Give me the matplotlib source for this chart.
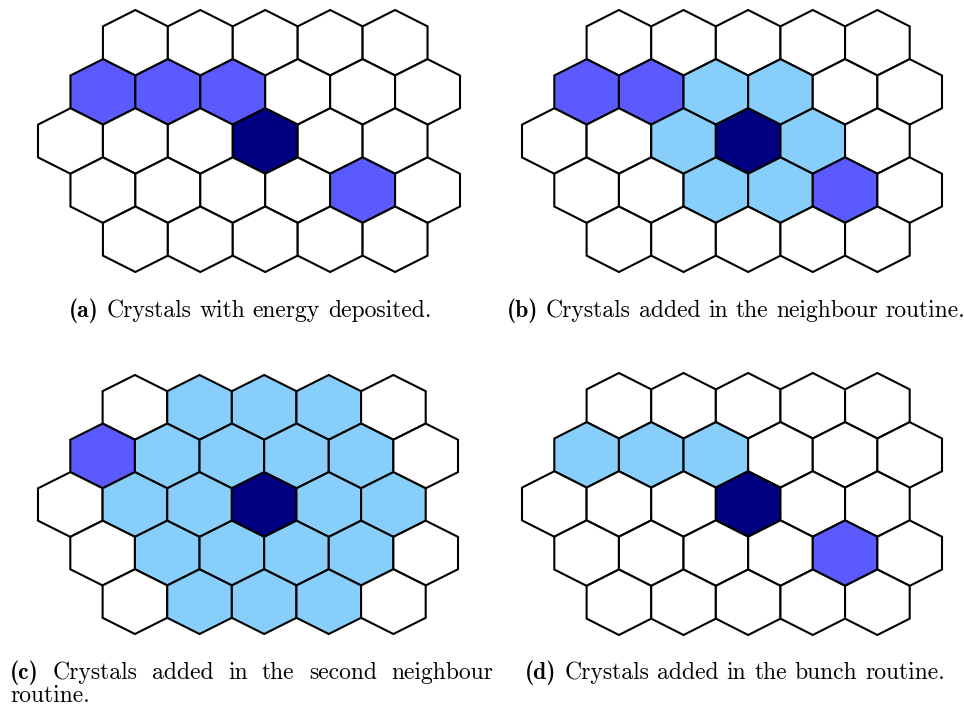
import matplotlib.pyplot as plt
from matplotlib.patches import Polygon

W, H = 964, 708
FS = 17

# grid layout: first half-column index and number of cells in each row
row_start = [2, 1, 0, 1, 2]
row_count = [5, 6, 6, 6, 5]

DARK = '#000080'
MID = '#5a5aff'
LIGHT = '#87cefa'

# cells as (row, index within row)
seed_a = [(2, 3)]
energy_a = [(1, 0), (1, 1), (1, 2), (3, 4)]

seed_b = [(2, 3)]
energy_b = [(1, 0), (1, 1), (3, 4)]
added_b = [(1, 2), (1, 3), (2, 2), (2, 4), (3, 2), (3, 3)]

seed_c = [(2, 3)]
energy_c = [(1, 0)]
added_c = [(0, 1), (0, 2), (0, 3),
           (1, 1), (1, 2), (1, 3), (1, 4),
           (2, 1), (2, 2), (2, 4), (2, 5),
           (3, 1), (3, 2), (3, 3), (3, 4),
           (4, 1), (4, 2), (4, 3)]

seed_d = [(2, 3)]
energy_d = [(3, 4)]
added_d = [(1, 0), (1, 1), (1, 2)]

# panel boxes in pixels: left, top, right, bottom
boxes = [(38, 10, 460, 272), (522, 10, 942, 272),
         (38, 375, 458, 634), (522, 373, 942, 635)]

panels = [(seed_a, energy_a, []), (seed_b, energy_b, added_b),
          (seed_c, energy_c, added_c), (seed_d, energy_d, added_d)]

HEX = [(0, 1), (1, 0.5), (1, -0.5), (0, -1), (-1, -0.5), (-1, 0.5)]

fig = plt.figure(figsize=(W / 100, H / 100), dpi=100)


def draw_grid(ax, seed, energy, added):
    colours = {}
    for c in added:
        colours[c] = LIGHT
    for c in energy:
        colours[c] = MID
    for c in seed:
        colours[c] = DARK
    for r in range(len(row_start)):
        for k in range(row_count[r]):
            cx = row_start[r] + 2 * k
            cy = -1.5 * r
            pts = [(cx + dx, cy + dy) for dx, dy in HEX]
            ax.add_patch(Polygon(pts, closed=True, facecolor=colours.get((r, k), 'white'),
                                 edgecolor='black', linewidth=1.5, clip_on=False,
                                 joinstyle='miter'))
    ax.set_xlim(-1, 12)
    ax.set_ylim(-7, 1)
    ax.axis('off')


for (l, t, r, b), cells in zip(boxes, panels):
    ax = fig.add_axes([l / W, 1 - b / H, (r - l) / W, (b - t) / H])
    draw_grid(ax, *cells)

renderer = fig.canvas.get_renderer()
space = 0.333 * FS * 100 / 72


def place_words(words, y, x0=None, x1=None, centre=None):
    texts = []
    for w in words:
        fam = 'cmb10' if w.startswith('(') and len(w) == 3 else 'cmr10'
        texts.append(fig.text(0, 1 - y / H, w, family=fam, fontsize=FS, va='baseline'))
    widths = [t.get_window_extent(renderer).width for t in texts]
    if centre is not None:
        total = sum(widths) + space * (len(words) - 1)
        x0 = centre - total / 2
        gap = space
    elif x1 is not None:
        gap = (x1 - x0 - sum(widths)) / (len(words) - 1)
    else:
        gap = space
    x = x0
    for t, w in zip(texts, widths):
        t.set_x(x / W)
        x += w + gap


place_words('(a) Crystals with energy deposited.'.split(), 317, centre=250)
place_words('(b) Crystals added in the neighbour routine.'.split(), 317, centre=736)
place_words('(c) Crystals added in the second neighbour'.split(), 679, x0=10, x1=493)
place_words(['routine.'], 702, x0=10)
place_words('(d) Crystals added in the bunch routine.'.split(), 679, centre=735)

fig.savefig('out.png', dpi=100)
